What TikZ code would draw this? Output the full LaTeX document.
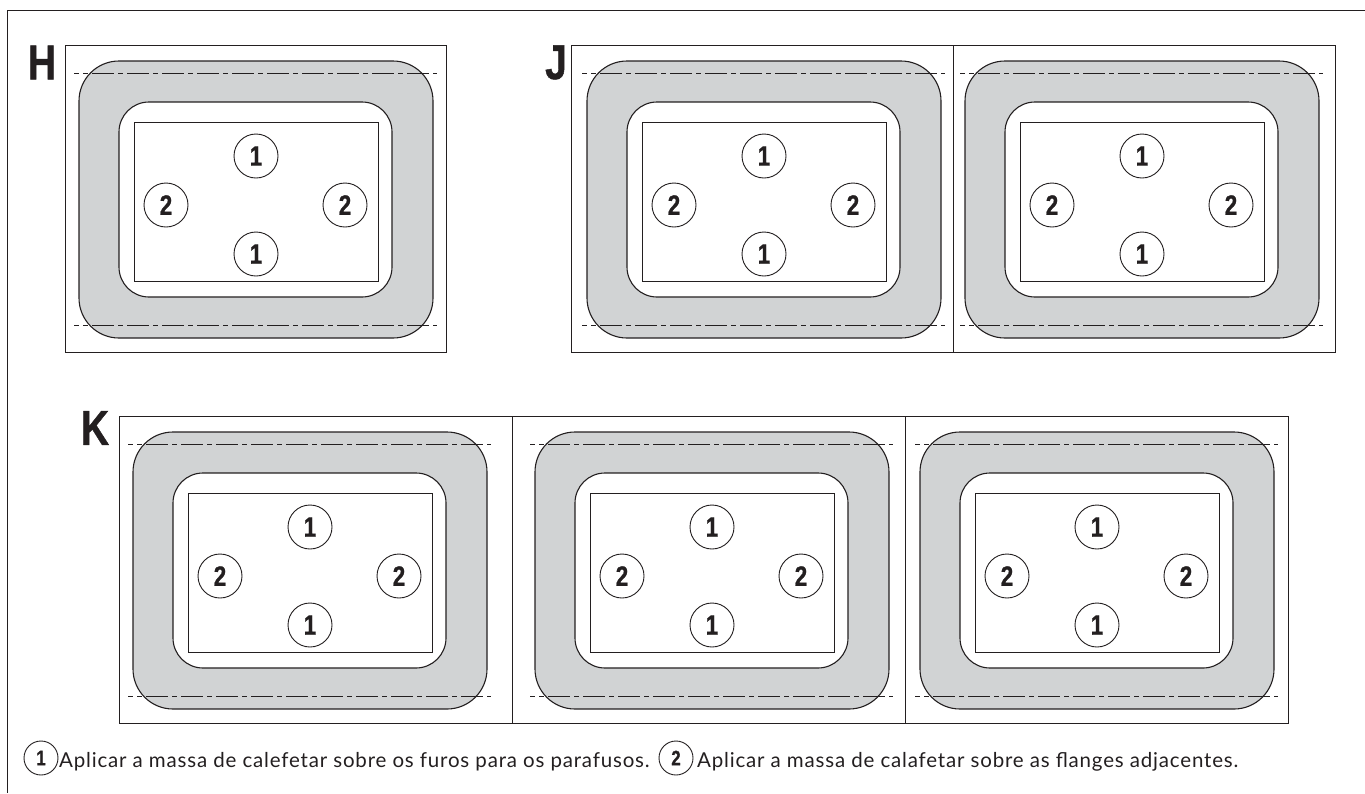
\documentclass[tikz,border=0pt]{standalone}
\usepackage{fontspec}
\setmainfont{Liberation Sans}
\newfontfamily\notefont[LetterSpace=4]{Lato}
\newfontfamily\narrowbold[FakeStretch=0.8,FakeBold=0.8]{Liberation Sans Bold}
\definecolor{flangegray}{RGB}{209,211,212}
\definecolor{inkgray}{RGB}{35,31,32}
\tikzset{
	panelbox/.style={draw=inkgray, line width=1pt},
	outerband/.style={draw=inkgray, fill=flangegray, line width=1.1pt, rounded corners=40pt},
	innerband/.style={draw=inkgray, fill=white, line width=1.1pt, rounded corners=30pt},
	openbox/.style={draw=inkgray, fill=white, line width=1pt},
	cutline/.style={draw=inkgray, line width=1pt, dash pattern=on 22pt off 4pt on 5pt off 4pt, dash phase=17pt},
	holemark/.style={circle, draw=inkgray, line width=0.9pt, minimum size=44pt, inner sep=0pt, font=\fontsize{28}{28}\narrowbold, text=inkgray},
	notemark/.style={circle, draw=inkgray, line width=0.9pt, minimum size=34pt, inner sep=0pt, font=\fontsize{21}{21}\narrowbold, text=inkgray},
	notetext/.style={anchor=base west, inner sep=0pt, font=\fontsize{20.5}{20.5}\notefont, text=inkgray},
	seriesname/.style={anchor=center, inner sep=0pt, font=\fontsize{49}{49}\narrowbold, text=inkgray}
}
% one opening with its sealing band, placed by the left top corner of its cell
\newcommand{\cellplan}[3]{
	\begin{scope}[shift={(#1,#2)}]
		\draw[outerband] (14,16) rectangle (368,293);
		\draw[innerband] (54,57) rectangle (327,252);
		\draw[openbox] (69,77) rectangle (313,236);
		\coordinate (#3cutAw) at (9,28);
		\coordinate (#3cutAe) at (372,28);
		\coordinate (#3cutBw) at (9,280);
		\coordinate (#3cutBe) at (372,280);
		\draw[cutline] (#3cutAw) -- (#3cutAe);
		\draw[cutline] (#3cutBw) -- (#3cutBe);
		\node[holemark] (#3top) at (191,111) {1};
		\node[holemark] (#3bot) at (191,209) {1};
		\node[holemark] (#3lft) at (101,160) {2};
		\node[holemark] (#3rgt) at (280,160) {2};
	\end{scope}
}
\begin{document}
\begin{tikzpicture}[x=1pt, y=-1pt]
	\useasboundingbox (0,0) rectangle (1365,793);
	% sheet edge
	\coordinate (sheetNE) at (1365,10);
	\coordinate (sheetNW) at (7,10);
	\coordinate (sheetSW) at (7,793);
	\draw[panelbox] (sheetNE) -- (sheetNW) -- (sheetSW);
	% series H
	\draw[panelbox] (65,45) rectangle (446,352);
	\cellplan{65}{45}{h}
	\node[seriesname] (nameH) at (42,62.5) {H};
	% series J
	\draw[panelbox] (571,45) rectangle (1335,352);
	\cellplan{573}{45}{ja}
	\cellplan{951}{45}{jb}
	\coordinate (jsplitA) at (953,45);
	\coordinate (jsplitB) at (953,352);
	\draw[panelbox] (jsplitA) -- (jsplitB);
	\node[seriesname] (nameJ) at (556,62.5) {J};
	% series K
	\draw[panelbox] (119,416) rectangle (1288,723);
	\cellplan{119}{416}{ka}
	\cellplan{521}{416}{kb}
	\cellplan{906}{416}{kc}
	\foreach \splitx/\splitname in {512/ksplitA, 905/ksplitB} {
		\coordinate (\splitname a) at (\splitx,416);
		\coordinate (\splitname b) at (\splitx,723);
		\draw[panelbox] (\splitname a) -- (\splitname b);
	}
	\node[seriesname] (nameK) at (95,428) {K};
	% notes
	\node[notemark] (markA) at (41,758) {1};
	\node[notetext] (noteA) at (59,767) {Aplicar a massa de calefetar sobre os furos para os parafusos.};
	\node[notemark] (markB) at (676,758) {2};
	\node[notetext] (noteB) at (697,767) {Aplicar a massa de calafetar sobre as flanges adjacentes.};
\end{tikzpicture}
\end{document}
